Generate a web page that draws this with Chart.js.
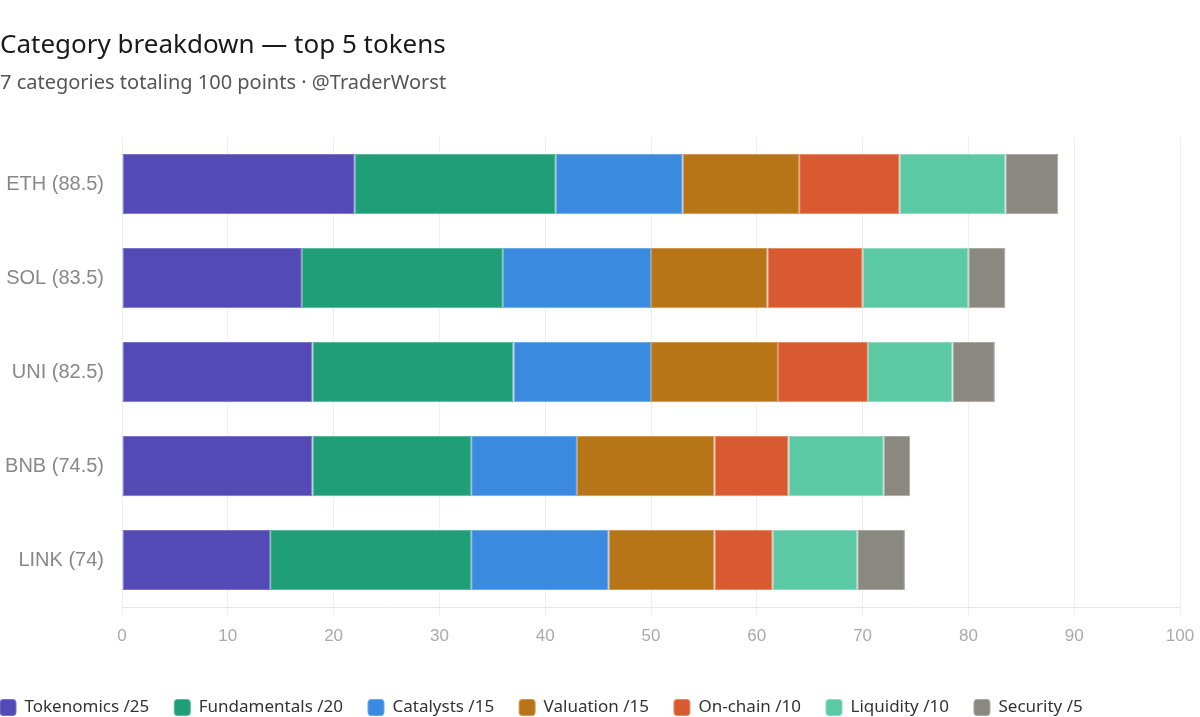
<!DOCTYPE html>
<html>
<head>
<meta charset="utf-8">
<script src="https://cdn.jsdelivr.net/npm/chart.js@4.4.1/dist/chart.umd.min.js"></script>
<style>
html,body{margin:0;padding:0;background:#fff;}
#wrap{position:relative;width:1200px;height:717px;}
</style>
</head>
<body>
<div id="wrap"><canvas id="c"></canvas></div>
<script>
const tokens = ["ETH", "SOL", "UNI", "BNB", "LINK"];
const totals = [88.5, 83.5, 82.5, 74.5, 74];
const categoryNames = ["Tokenomics /25", "Fundamentals /20", "Catalysts /15", "Valuation /15", "On-chain /10", "Liquidity /10", "Security /5"];
const tokenomics   = [22, 17, 18, 18, 14];
const fundamentals = [19, 19, 19, 15, 19];
const catalysts    = [12, 14, 13, 10, 13];
const valuation    = [11, 11, 12, 13, 10];
const onchain      = [9.5, 9, 8.5, 7, 5.5];
const liquidity    = [10, 10, 8, 9, 8];
const security     = [5, 3.5, 4, 2.5, 4.5];
const xTicks = [0, 10, 20, 30, 40, 50, 60, 70, 80, 90, 100];

const seriesValues = [tokenomics, fundamentals, catalysts, valuation, onchain, liquidity, security];
const colors = ["#534ab6", "#1f9e77", "#3a8be0", "#b87518", "#d95a30", "#5cc9a5", "#8a8880"];
const borders = ["#7a73c8", "#5ab79a", "#6ea9e8", "#cc9a55", "#e58a6a", "#8ed9bf", "#aaa8a2"];

const labels = tokens.map((t, i) => t + " (" + totals[i] + ")");

const legendShift = {
  id: "legendShift",
  afterLayout(chart) {
    const lg = chart.legend;
    if (lg) {
      const p = lg.options.labels.padding;
      lg.left -= p;
      lg.right -= p;
      lg.top += 18;
      lg.bottom += 18;
    }
  }
};

new Chart(document.getElementById("c"), {
  type: "bar",
  data: {
    labels: labels,
    datasets: seriesValues.map((vals, i) => ({
      label: categoryNames[i],
      data: vals,
      backgroundColor: colors[i],
      borderColor: borders[i],
      borderWidth: 1,
      borderSkipped: false,
      barPercentage: 0.8,
      categoryPercentage: 0.8
    }))
  },
  plugins: [legendShift],
  options: {
    indexAxis: "y",
    responsive: true,
    maintainAspectRatio: false,
    animation: false,
    layout: { padding: { top: 30, left: 0, right: 20, bottom: 9 } },
    plugins: {
      title: {
        display: true,
        text: "Category breakdown — top 5 tokens",
        align: "start",
        color: "#1a1a1a",
        font: { family: "'Noto Sans'", size: 26, weight: "normal" },
        padding: { top: 0, bottom: 10 }
      },
      subtitle: {
        display: true,
        text: "7 categories totaling 100 points · @TraderWorst",
        align: "start",
        color: "#555",
        font: { family: "'Noto Sans'", size: 20, weight: "normal" },
        padding: { top: 0, bottom: 42 }
      },
      legend: {
        position: "bottom",
        align: "start",
        labels: {
          color: "#333",
          font: { family: "'Noto Sans'", size: 17 },
          boxWidth: 16,
          boxHeight: 16,
          useBorderRadius: true,
          borderRadius: 3,
          padding: 25
        }
      },
      tooltip: { enabled: false }
    },
    scales: {
      x: {
        stacked: true,
        min: 0,
        max: 100,
        afterBuildTicks: (s) => { s.ticks = xTicks.map(v => ({ value: v })); },
        ticks: {
          color: "#aaa",
          font: { family: "'Liberation Sans'", size: 17 },
          padding: 11
        },
        grid: { color: "#efefef", tickLength: 8 },
        border: { color: "#e6e6e6" },
        afterFit: (s) => { s.height = 49; s.paddingRight = 0; s.paddingLeft = 0; }
      },
      y: {
        stacked: true,
        ticks: {
          color: "#888",
          font: { family: "'Liberation Sans'", size: 20 },
          padding: 18
        },
        grid: { display: false, drawTicks: false },
        border: { display: false },
        afterFit: (s) => { s.width = 122; }
      }
    }
  }
});
</script>
</body>
</html>
